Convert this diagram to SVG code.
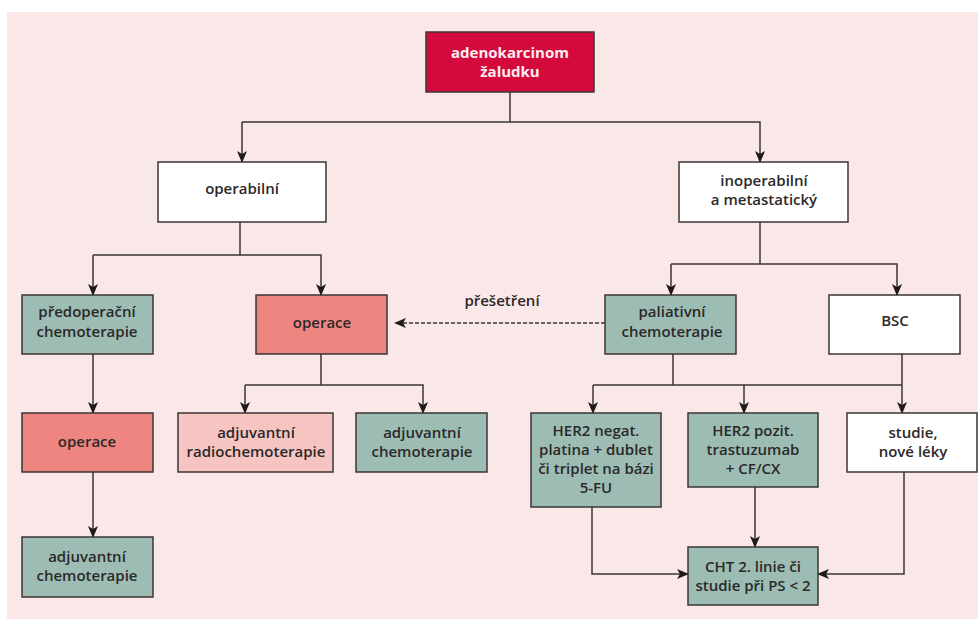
<svg xmlns="http://www.w3.org/2000/svg" width="978" height="619" viewBox="0 0 978 619">
<style>
.box{stroke:#3b3535;stroke-width:1.5}
.white{fill:#ffffff}
.teal{fill:#9dbdb4}
.salmon{fill:#ef8581}
.lpink{fill:#f6c5c1}
.crimson{fill:#d50a3c}
text{font-family:"Open Sans","Liberation Sans",sans-serif;font-size:15px;font-weight:600;fill:#2b2828;text-anchor:middle}
text.inv{fill:#fbeef0;font-weight:700}
.ln{fill:none;stroke:#3b3535;stroke-width:1.5}
.dash{fill:none;stroke:#3b3535;stroke-width:1.3;stroke-dasharray:4 2}
</style>
<defs>
<marker id="ah" markerUnits="userSpaceOnUse" markerWidth="12" markerHeight="12" viewBox="0 0 12 12" refX="11" refY="6" orient="auto">
<path d="M0,1 L12,6 L0,11 L3,6 z" fill="#1e1a1a"/>
</marker>
</defs>
<rect x="0" y="0" width="978" height="619" fill="#ffffff"/>
<rect x="7" y="12" width="971" height="607" fill="#fae8e8"/>

<g id="connectors">
<path class="ln" d="M510,92 V122"/>
<path class="ln" d="M242,122 H760 V162" marker-end="url(#ah)"/>
<path class="ln" d="M242,122 V162" marker-end="url(#ah)"/>
<path class="ln" d="M240,222 V255"/>
<path class="ln" d="M93,255 H321 V295" marker-end="url(#ah)"/>
<path class="ln" d="M93,255 V295" marker-end="url(#ah)"/>
<path class="ln" d="M760,222 V264"/>
<path class="ln" d="M671,264 H897 V295" marker-end="url(#ah)"/>
<path class="ln" d="M671,264 V295" marker-end="url(#ah)"/>
<path class="dash" d="M605,323 H395" marker-end="url(#ah)"/>
<path class="ln" d="M93,354 V413" marker-end="url(#ah)"/>
<path class="ln" d="M321,354 V385"/>
<path class="ln" d="M245,385 H423 V413" marker-end="url(#ah)"/>
<path class="ln" d="M245,385 V413" marker-end="url(#ah)"/>
<path class="ln" d="M93,472 V537" marker-end="url(#ah)"/>
<path class="ln" d="M673,354 V385"/>
<path class="ln" d="M593,385 H902"/>
<path class="ln" d="M902,354 V413" marker-end="url(#ah)"/>
<path class="ln" d="M593,385 V413" marker-end="url(#ah)"/>
<path class="ln" d="M744,385 V413" marker-end="url(#ah)"/>
<path class="ln" d="M755,487 V547" marker-end="url(#ah)"/>
<path class="ln" d="M592,507 V574 H688" marker-end="url(#ah)"/>
<path class="ln" d="M904,472 V574 H818" marker-end="url(#ah)"/>
<text x="502" y="306">přešetření</text>
</g>

<g id="n-adeno">
<rect class="box crimson" x="426" y="32" width="168" height="60"/>
<text class="inv" x="510" y="58">adenokarcinom</text>
<text class="inv" x="510" y="77">žaludku</text>
</g>
<g id="n-operabilni">
<rect class="box white" x="158" y="162" width="168" height="60"/>
<text x="242" y="194">operabilní</text>
</g>
<g id="n-inoperabilni">
<rect class="box white" x="679" y="162" width="169" height="60"/>
<text x="764" y="186">inoperabilní</text>
<text x="764" y="205">a metastatický</text>
</g>
<g id="n-predoperacni">
<rect class="box teal" x="22" y="295" width="131" height="59"/>
<text x="87" y="317">předoperační</text>
<text x="87" y="337">chemoterapie</text>
</g>
<g id="n-operace1">
<rect class="box salmon" x="256" y="295" width="131" height="59"/>
<text x="322" y="328">operace</text>
</g>
<g id="n-paliativni">
<rect class="box teal" x="605" y="295" width="131" height="59"/>
<text x="672" y="317">paliativní</text>
<text x="672" y="337">chemoterapie</text>
</g>
<g id="n-bsc">
<rect class="box white" x="829" y="295" width="131" height="59"/>
<text x="895" y="326">BSC</text>
</g>
<g id="n-operace2">
<rect class="box salmon" x="22" y="413" width="131" height="59"/>
<text x="87" y="447">operace</text>
</g>
<g id="n-adjradio">
<rect class="box lpink" x="178" y="413" width="155" height="59"/>
<text x="256" y="438">adjuvantní</text>
<text x="256" y="457">radiochemoterapie</text>
</g>
<g id="n-adjchemo1">
<rect class="box teal" x="356" y="413" width="131" height="59"/>
<text x="422" y="438">adjuvantní</text>
<text x="422" y="457">chemoterapie</text>
</g>
<g id="n-her2neg">
<rect class="box teal" x="531" y="413" width="130" height="94"/>
<text x="596" y="436">HER2 negat.</text>
<text x="596" y="455">platina + dublet</text>
<text x="596" y="474">či triplet na bázi</text>
<text x="596" y="493">5-FU</text>
</g>
<g id="n-her2poz">
<rect class="box teal" x="688" y="413" width="130" height="74"/>
<text x="753" y="436">HER2 pozit.</text>
<text x="753" y="455">trastuzumab</text>
<text x="753" y="474">+ CF/CX</text>
</g>
<g id="n-studie">
<rect class="box white" x="847" y="413" width="130" height="59"/>
<text x="913" y="438">studie,</text>
<text x="913" y="457">nové léky</text>
</g>
<g id="n-adjchemo2">
<rect class="box teal" x="22" y="537" width="131" height="60"/>
<text x="87" y="562">adjuvantní</text>
<text x="87" y="581">chemoterapie</text>
</g>
<g id="n-cht">
<rect class="box teal" x="688" y="547" width="130" height="58"/>
<text x="753" y="572">CHT 2. linie či</text>
<text x="753" y="591">studie při PS &lt; 2</text>
</g>
</svg>
